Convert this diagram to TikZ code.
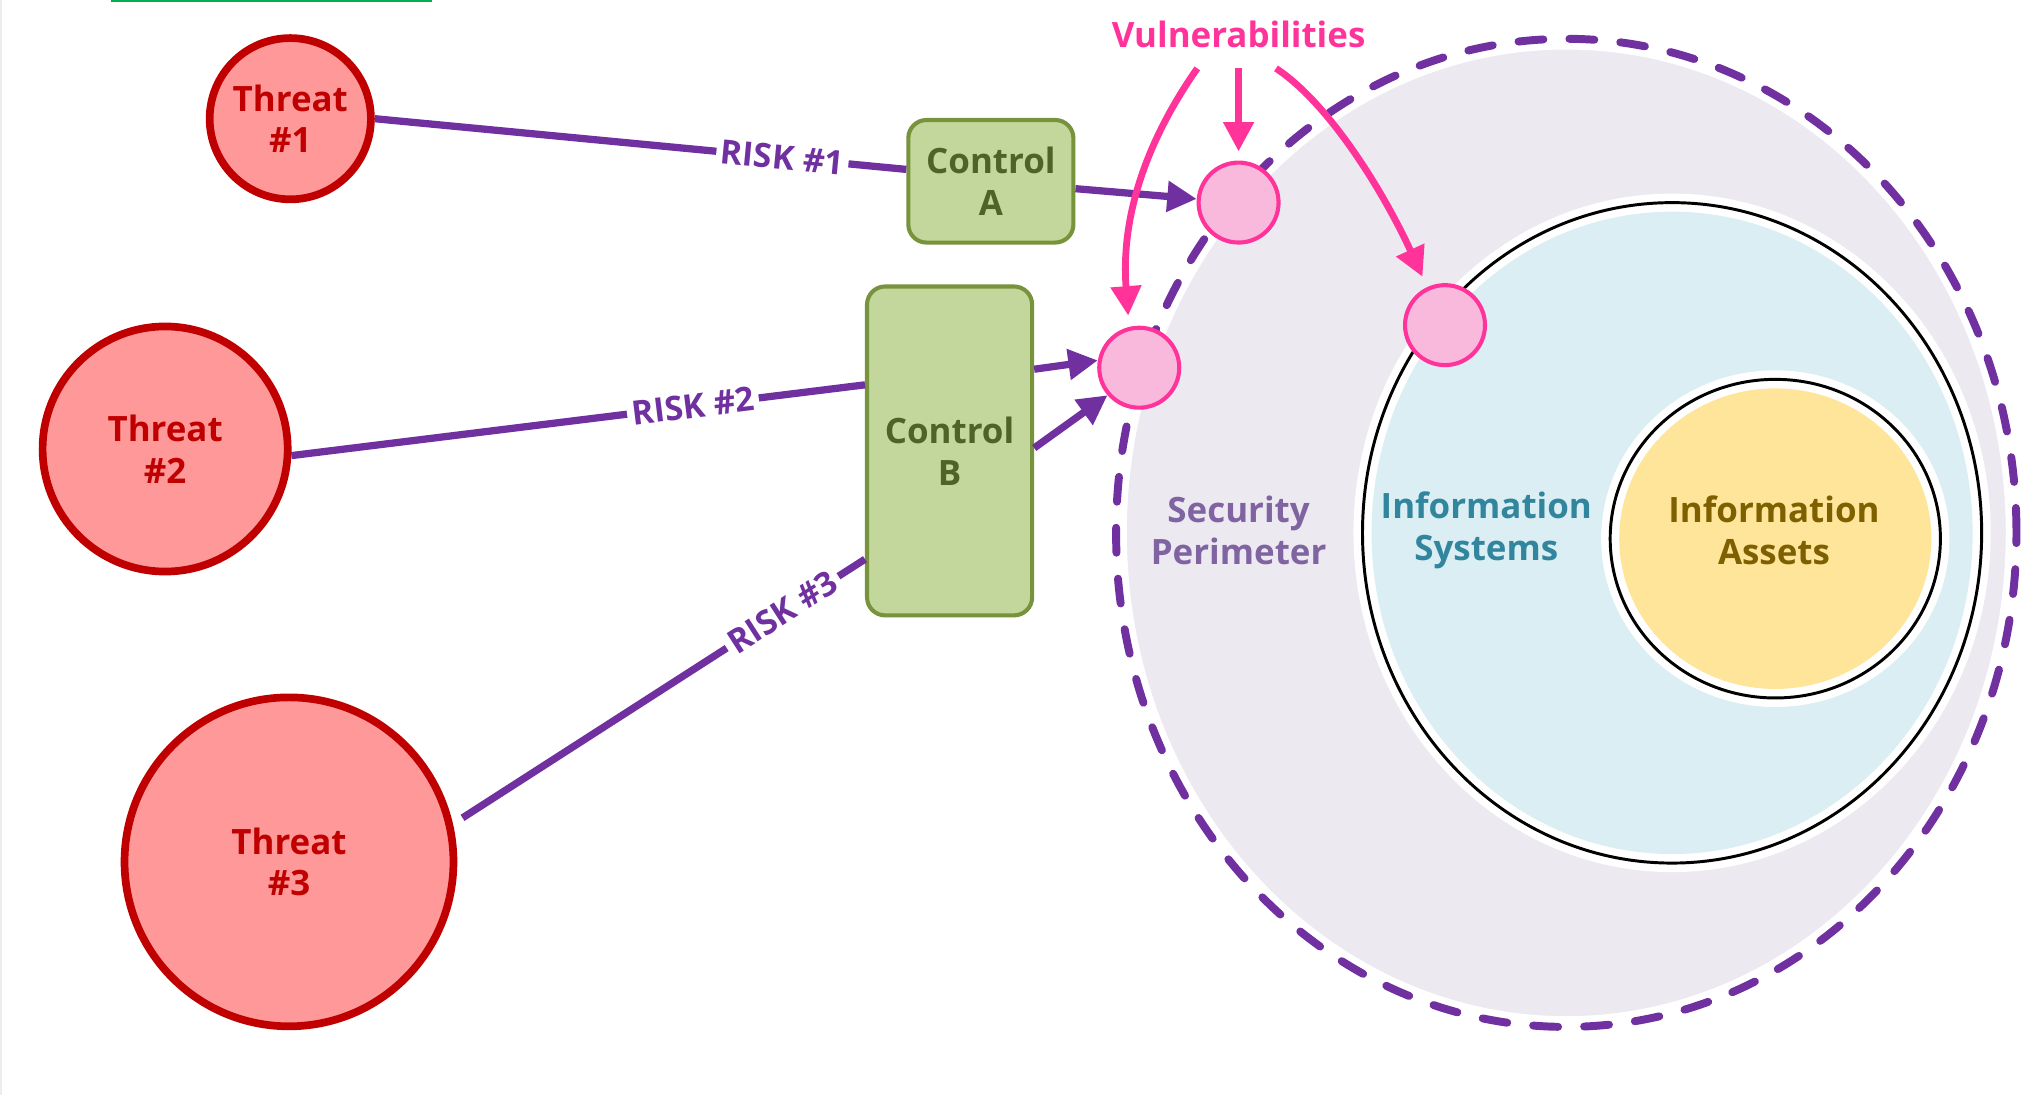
\documentclass[tikz,border=0pt]{standalone}
\usepackage{fontspec}
\setmainfont{Open Sans}
\usetikzlibrary{arrows.meta,shapes.geometric}
\definecolor{thrB}{HTML}{C00000}
\definecolor{thrF}{HTML}{FF9999}
\definecolor{ctlB}{HTML}{77933C}
\definecolor{ctlF}{HTML}{C3D69B}
\definecolor{ctlT}{HTML}{4F6228}
\definecolor{vulB}{HTML}{FF3399}
\definecolor{vulF}{HTML}{F9B9DD}
\definecolor{purp}{HTML}{7030A0}
\definecolor{pinkC}{HTML}{FF3399}
\definecolor{perF}{HTML}{ECE9F1}
\definecolor{secT}{HTML}{8064A2}
\definecolor{sysF}{HTML}{DAEEF3}
\definecolor{sysT}{HTML}{31859C}
\definecolor{astF}{HTML}{FEE599}
\definecolor{astT}{HTML}{7F6000}
\definecolor{greenL}{HTML}{00B050}
\begin{document}
\begin{tikzpicture}[x=0.02cm,y=-0.02cm,
  fnt/.style={font=\fontsize{15.4pt}{18.4pt}\selectfont\bfseries},
  threat/.style={circle,draw=thrB,fill=thrF,line width=3.4pt,text=thrB,fnt,align=center,inner sep=0pt},
  ctrl/.style={rectangle,rounded corners=8pt,draw=ctlB,fill=ctlF,line width=1.8pt,text=ctlT,fnt,align=center,minimum width=2.56cm,inner sep=0pt},
  vuln/.style={circle,draw=vulB,fill=vulF,line width=1.8pt,minimum size=1.24cm,inner sep=0pt},
  ring/.style={ellipse,inner sep=0pt},
  risk/.style={draw=purp,line width=3.2pt},
  risklab/.style={fill=white,text=purp,font=\fontsize{14.8pt}{16pt}\selectfont\bfseries,inner sep=2pt,sloped},
  parr/.style={draw=purp,line width=3.2pt,-{Triangle[length=13pt,width=13pt]}},
  karr/.style={draw=pinkC,line width=3pt,-{Triangle[length=13pt,width=13pt]}},
]
\useasboundingbox (0,0) rectangle (1568,849);
\fill[white] (0,0) rectangle (1568,849);
\fill[black!7] (0,0) rectangle (1.5,849);
\draw[greenL,line width=1pt] (86,0.8) -- (335,0.8);

% security perimeter
\node[ring,fill=perF,draw=white,line width=1.5pt,minimum width=13.68cm,minimum height=15.04cm] (perimfill) at (1214,413) {};
\node[ring,draw=purp,line width=3.5pt,dash pattern=on 11pt off 11.5pt,line cap=round,minimum width=13.96cm,minimum height=15.32cm] (perim) at (1214,413) {};

% information systems
\node[ring,fill=white,minimum width=9.88cm,minimum height=10.52cm] (syswhite) at (1296,413) {};
\node[ring,fill=sysF,minimum width=9.32cm,minimum height=9.96cm] (sysfill) at (1296,413) {};
\node[ring,draw=black,line width=1.3pt,minimum width=9.6cm,minimum height=10.24cm] (sys) at (1296,413) {};

% information assets
\node[ring,fill=white,minimum width=5.40cm,minimum height=5.22cm] (astwhite) at (1376,417.5) {};
\node[ring,fill=astF,minimum width=4.84cm,minimum height=4.66cm] (astfill) at (1376,417.5) {};
\node[ring,draw=black,line width=1.3pt,minimum width=5.12cm,minimum height=4.94cm] (ast) at (1376,417.5) {};

% labels
\node[fnt,text=secT,align=center] (seclab) at (960,411) {Security\\Perimeter};
\node[fnt,text=sysT,align=center] (syslab) at (1152,411) {Information\\Systems};
\node[fnt,text=astT,align=center] (astlab) at (1375,411) {Information\\Assets};
\node[fnt,text=pinkC] (vul) at (960,27) {Vulnerabilities};

% threats
\node[threat,minimum size=2.5cm] (th1) at (225,92) {Threat\\\#1};
\node[threat,minimum size=3.8cm] (th2) at (128,348) {Threat\\\#2};
\node[threat,minimum size=5.1cm] (th3) at (224,668) {Threat\\\#3};

% controls
\node[ctrl,minimum height=1.9cm] (ctrlA) at (768,140.5) {Control\\A};
\node[ctrl,minimum height=5.1cm] (ctrlB) at (736,349.5) {Control\\B};

% vulnerability points
\node[vuln] (v1) at (960,157) {};
\node[vuln] (v2) at (883,285) {};
\node[vuln] (v3) at (1120,252) {};

% risks
\draw[risk] (th1.east) -- node[risklab,pos=0.767]{RISK \#1} (ctrlA.172);
\draw[risk] (th2.-3) -- node[risklab,pos=0.70]{RISK \#2} (ctrlB.142);
\draw[risk,shorten <=5pt] (th3.13) -- node[risklab,pos=0.80]{RISK \#3} (ctrlB.232);
\draw[parr] (ctrlA.-5) -- (v1.175);
\draw[parr] (ctrlB.44) -- (v2.170);
\draw[parr] (ctrlB.2) -- (v2.221);

% vulnerabilities arrows
\coordinate (va) at (928,53);
\coordinate (vb) at (960,53);
\coordinate (vc) at (989,53);
\draw[karr,shorten >=5pt] (va) .. controls (895,100) and (868,160) .. (v2.104);
\draw[karr,shorten >=4pt] (vb) -- (v1.north);
\draw[karr,shorten >=5pt] (vc) .. controls (1030,80) and (1072,148) .. (v3.115);
\end{tikzpicture}
\end{document}
